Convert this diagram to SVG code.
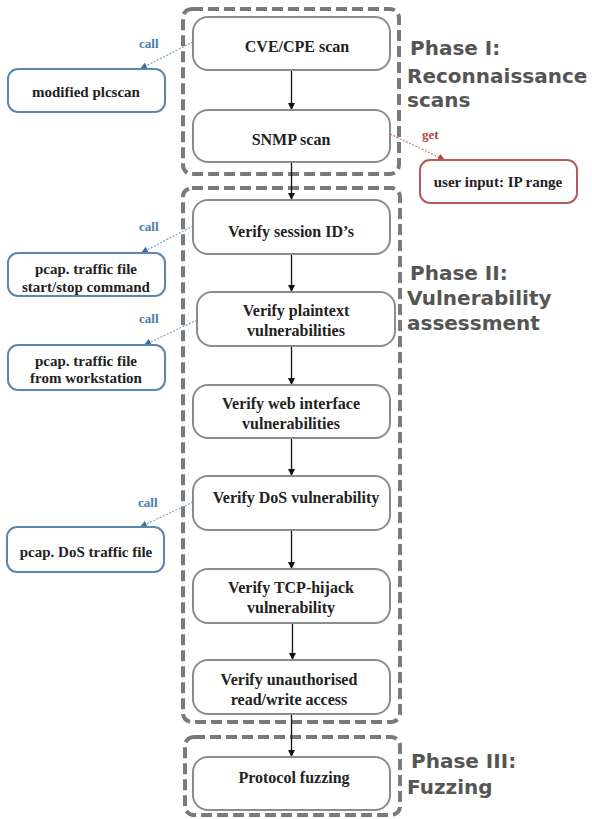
<svg xmlns="http://www.w3.org/2000/svg" width="592" height="819" viewBox="0 0 592 819">
<defs>
<style>
.phase{fill:none;stroke:#7a7a7a;stroke-width:4;stroke-dasharray:11 5;}
.node{fill:#fff;stroke:#8c8c8c;stroke-width:2;}
.side{fill:#fff;stroke:#5a87b0;stroke-width:2;}
.red{fill:#fff;stroke:#b85a5a;stroke-width:2;}
.nt{font-family:"Liberation Serif","Times New Roman",serif;font-weight:bold;font-size:16px;fill:#222;text-anchor:middle;}
.st{font-family:"Liberation Serif","Times New Roman",serif;font-weight:bold;font-size:15px;fill:#222;text-anchor:middle;}
.lbl{font-family:"Liberation Serif","Times New Roman",serif;font-weight:bold;font-size:13px;}
.ph{font-family:"DejaVu Sans",sans-serif;font-weight:bold;font-size:20px;fill:#555;}
.arr{stroke:#111;stroke-width:1.3;fill:none;marker-end:url(#ah);}
.dotb{stroke:#7fa3c8;stroke-width:1.2;stroke-dasharray:2 1.5;fill:none;marker-end:url(#ahb);}
.dotr{stroke:#c77;stroke-width:1.2;stroke-dasharray:2 1.5;fill:none;marker-end:url(#ahr);}
</style>
<marker id="ah" viewBox="0 0 10 10" refX="10" refY="5" markerWidth="7" markerHeight="7" orient="auto" markerUnits="userSpaceOnUse"><path d="M0,0 L10,5 L0,10 z" fill="#111"/></marker>
<marker id="ahb" viewBox="0 0 10 10" refX="10" refY="5" markerWidth="7" markerHeight="7" orient="auto" markerUnits="userSpaceOnUse"><path d="M0,0 L10,5 L0,10 z" fill="#3f6d99"/></marker>
<marker id="ahr" viewBox="0 0 10 10" refX="10" refY="5" markerWidth="7" markerHeight="7" orient="auto" markerUnits="userSpaceOnUse"><path d="M0,0 L10,5 L0,10 z" fill="#b04545"/></marker>
</defs>
<rect width="592" height="819" fill="#fff"/>

<g id="phase1">
<rect class="phase" x="183" y="9" width="216" height="165" rx="9"/>
<text class="ph" x="410" y="55">Phase I:</text>
<text class="ph" x="407" y="83">Reconnaissance</text>
<text class="ph" x="407" y="107">scans</text>
</g>
<g id="phase2">
<rect class="phase" x="183" y="188" width="217" height="534" rx="9"/>
<text class="ph" x="410" y="280">Phase II:</text>
<text class="ph" x="407" y="305">Vulnerability</text>
<text class="ph" x="407" y="330">assessment</text>
</g>
<g id="phase3">
<rect class="phase" x="185" y="737" width="215" height="78" rx="9"/>
<text class="ph" x="411" y="768">Phase III:</text>
<text class="ph" x="407" y="794">Fuzzing</text>
</g>

<g id="connectors">
<line class="arr" x1="291.5" y1="70" x2="291.5" y2="110"/>
<line class="arr" x1="291.5" y1="162" x2="291.5" y2="200"/>
<line class="arr" x1="291.5" y1="254" x2="291.5" y2="292"/>
<line class="arr" x1="291.5" y1="346" x2="291.5" y2="385"/>
<line class="arr" x1="291.5" y1="438" x2="291.5" y2="476"/>
<line class="arr" x1="291.5" y1="530" x2="291.5" y2="569"/>
<line class="arr" x1="292.5" y1="623" x2="292.5" y2="660"/>
<line class="arr" x1="291.5" y1="714" x2="291.5" y2="757"/>
<line class="dotb" x1="193" y1="42" x2="140" y2="69"/>
<line class="dotb" x1="193" y1="226" x2="141" y2="253"/>
<line class="dotb" x1="197" y1="320" x2="144" y2="345"/>
<line class="dotb" x1="193" y1="502" x2="140" y2="527"/>
<line class="dotr" x1="390" y1="134" x2="445" y2="160"/>
<text class="lbl" x="139" y="48" fill="#4a7ca8">call</text>
<text class="lbl" x="139" y="231" fill="#4a7ca8">call</text>
<text class="lbl" x="139" y="323" fill="#4a7ca8">call</text>
<text class="lbl" x="138" y="507" fill="#4a7ca8">call</text>
<text class="lbl" x="422" y="139" fill="#b04545">get</text>
</g>

<g id="cve"><rect class="node" x="193" y="17" width="197" height="53" rx="15"/><text class="nt" x="297" y="52">CVE/CPE scan</text></g>
<g id="snmp"><rect class="node" x="193" y="110" width="197" height="52" rx="15"/><text class="nt" x="291" y="145">SNMP scan</text></g>
<g id="session"><rect class="node" x="193" y="200" width="197" height="54" rx="15"/><text class="nt" x="291" y="237">Verify session ID’s</text></g>
<g id="plaintext"><rect class="node" x="197" y="292" width="198" height="54" rx="15"/><text class="nt" x="296" y="316">Verify plaintext</text><text class="nt" x="296" y="336">vulnerabilities</text></g>
<g id="web"><rect class="node" x="193" y="385" width="197" height="53" rx="15"/><text class="nt" x="291" y="409">Verify web interface</text><text class="nt" x="291" y="429">vulnerabilities</text></g>
<g id="dos"><rect class="node" x="193" y="476" width="197" height="54" rx="15"/><text class="nt" x="296" y="503">Verify DoS vulnerability</text></g>
<g id="tcp"><rect class="node" x="193" y="569" width="197" height="54" rx="15"/><text class="nt" x="291" y="593">Verify TCP-hijack</text><text class="nt" x="291" y="613">vulnerability</text></g>
<g id="unauth"><rect class="node" x="193" y="660" width="197" height="54" rx="15"/><text class="nt" x="289" y="685">Verify unauthorised</text><text class="nt" x="289" y="705">read/write access</text></g>
<g id="fuzz"><rect class="node" x="193" y="757" width="197" height="53" rx="15"/><text class="nt" x="294" y="783">Protocol fuzzing</text></g>

<g id="plcscan"><rect class="side" x="8" y="69" width="157" height="43" rx="10"/><text class="st" x="86" y="97">modified plcscan</text></g>
<g id="pcap1"><rect class="side" x="8" y="253" width="157" height="43" rx="10"/><text class="st" x="86" y="274">pcap. traffic file</text><text class="st" x="86" y="292">start/stop command</text></g>
<g id="pcap2"><rect class="side" x="8" y="345" width="157" height="45" rx="10"/><text class="st" x="86" y="366">pcap. traffic file</text><text class="st" x="86" y="383">from workstation</text></g>
<g id="pcap3"><rect class="side" x="7" y="527" width="157" height="45" rx="10"/><text class="st" x="86" y="557">pcap. DoS traffic file</text></g>
<g id="ip"><rect class="red" x="420" y="160" width="157" height="43" rx="10"/><text class="st" x="498" y="187">user input: IP range</text></g>
</svg>
